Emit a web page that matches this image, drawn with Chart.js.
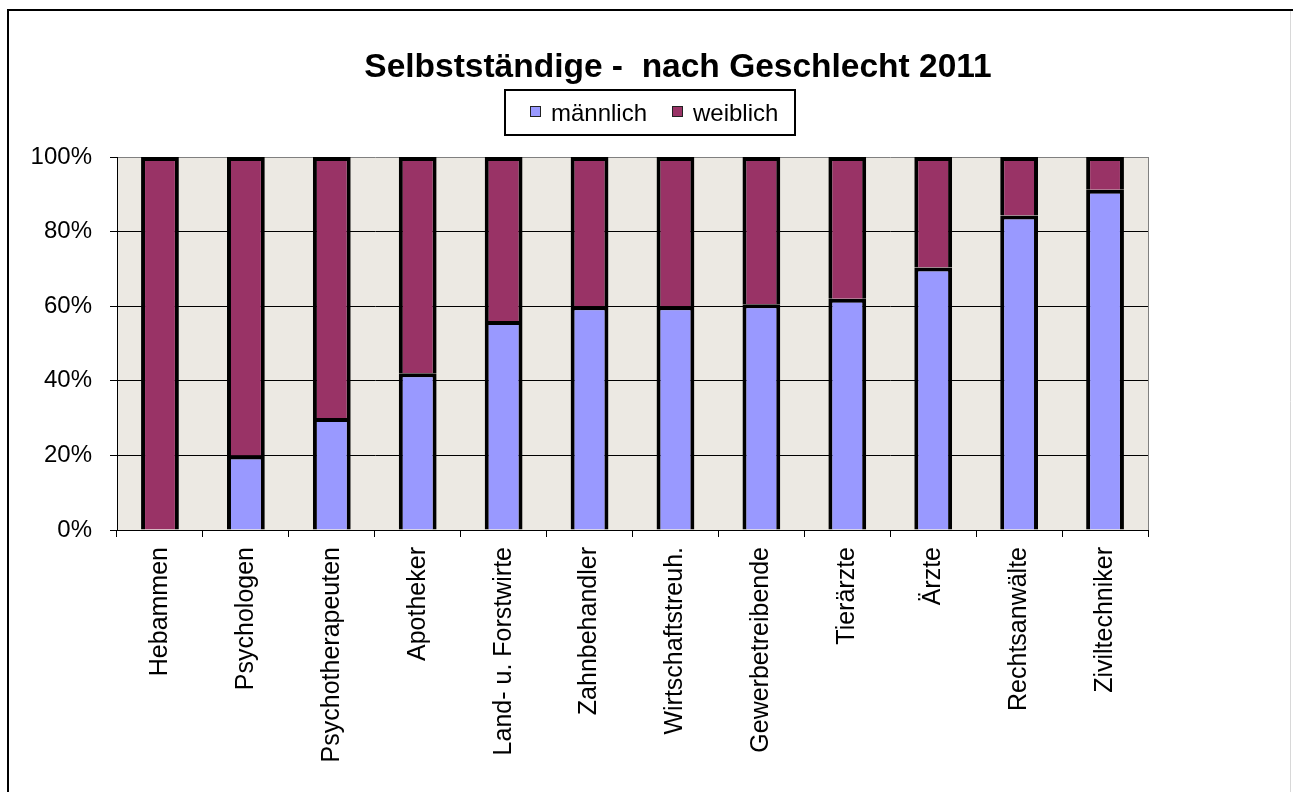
<!DOCTYPE html>
<html lang="de">
<head>
<meta charset="utf-8">
<title>Selbstständige - nach Geschlecht 2011</title>
<script src="https://cdn.jsdelivr.net/npm/chart.js@4.4.1/dist/chart.umd.min.js"></script>
<style>
  html, body { margin: 0; padding: 0; background: #fff; }
  canvas { display: block; }
</style>
</head>
<body>
<canvas id="chart" width="1293" height="792"></canvas>
<script>
// Berufsgruppen, Anteil männlich / weiblich in Prozent
const kategorien = ['Hebammen', 'Psychologen', 'Psychotherapeuten', 'Apotheker', 'Land- u. Forstwirte',
  'Zahnbehandler', 'Wirtschaftstreuh.', 'Gewerbetreibende', 'Tierärzte', 'Ärzte', 'Rechtsanwälte', 'Ziviltechniker'];
const maennlich = [0, 20, 30, 42, 56, 60, 60, 60.5, 62, 70.4, 84.3, 91.2];
const weiblich = [100, 80, 70, 58, 44, 40, 40, 39.5, 38, 29.6, 15.7, 8.8];
const yTicks = [0, 20, 40, 60, 80, 100];

const titel = 'Selbstständige -  nach Geschlecht 2011';
const FONT = '"Liberation Sans", Arial, Helvetica, sans-serif';
const BLAU = '#9999ff';
const ROT = '#993366';

// Rahmen, Hintergrund der Zeichenfläche, Titel und Legende
const deko = {
  id: 'deko',
  beforeDraw(chart) {
    const { ctx, chartArea: a } = chart;
    ctx.save();
    ctx.fillStyle = '#fff';
    ctx.fillRect(0, 0, chart.width, chart.height);
    // äußerer Rahmen
    ctx.strokeStyle = '#000';
    ctx.lineWidth = 2;
    ctx.beginPath();
    ctx.moveTo(8, chart.height);
    ctx.lineTo(8, 10);
    ctx.lineTo(chart.width, 10);
    ctx.stroke();
    ctx.strokeStyle = '#d8d8d8';
    ctx.lineWidth = 1;
    ctx.beginPath();
    ctx.moveTo(1290.5, 11);
    ctx.lineTo(1290.5, chart.height);
    ctx.stroke();
    // Zeichenfläche
    ctx.fillStyle = '#ece9e3';
    ctx.fillRect(a.left, a.top, a.right - a.left, a.bottom - a.top);
    ctx.restore();
  },
  afterDraw(chart) {
    const { ctx, chartArea: a } = chart;
    ctx.save();
    // rechter Rand der Zeichenfläche
    ctx.strokeStyle = '#808080';
    ctx.lineWidth = 1;
    ctx.beginPath();
    ctx.moveTo(a.right + 0.5, a.top);
    ctx.lineTo(a.right + 0.5, a.bottom);
    ctx.stroke();

    // Titel
    ctx.fillStyle = '#000';
    ctx.font = 'bold 33.5px ' + FONT;
    ctx.textAlign = 'center';
    ctx.textBaseline = 'alphabetic';
    ctx.fillText(titel, 678, 77);

    // Legende mit Kasten
    ctx.fillStyle = '#fff';
    ctx.fillRect(505, 90, 290, 45);
    ctx.strokeStyle = '#000';
    ctx.lineWidth = 2;
    ctx.strokeRect(505, 90, 290, 45);
    ctx.font = '24px ' + FONT;
    ctx.textAlign = 'left';
    let x = 530;
    chart.data.datasets.forEach(ds => {
      ctx.fillStyle = ds.backgroundColor;
      ctx.fillRect(x, 106, 11, 11);
      ctx.strokeStyle = '#222';
      ctx.lineWidth = 1;
      ctx.strokeRect(x + 0.5, 106.5, 10, 10);
      ctx.fillStyle = '#000';
      ctx.fillText(ds.label, x + 21, 121);
      x += 142;
    });
    ctx.restore();
  }
};

new Chart(document.getElementById('chart'), {
  type: 'bar',
  data: {
    labels: kategorien,
    datasets: [
      { label: 'männlich', data: maennlich, backgroundColor: BLAU, borderColor: '#000', borderWidth: 4 },
      { label: 'weiblich', data: weiblich, backgroundColor: ROT, borderColor: '#000', borderWidth: 4 }
    ]
  },
  options: {
    responsive: false,
    devicePixelRatio: 1,
    animation: false,
    layout: { padding: { top: 157, right: 145, left: 0, bottom: 0 } },
    datasets: { bar: { barPercentage: 0.44, categoryPercentage: 1 } },
    plugins: { legend: { display: false }, title: { display: false }, tooltip: { enabled: false } },
    scales: {
      x: {
        stacked: true,
        grid: { drawOnChartArea: false, offset: true, tickLength: 7, tickColor: '#000' },
        border: { color: '#000', width: 1 },
        ticks: { minRotation: 90, maxRotation: 90, padding: 10, color: '#000', font: { family: FONT, size: 25 } },
        afterFit(s) { s.height = 262; }
      },
      y: {
        stacked: true,
        min: 0,
        max: 100,
        afterBuildTicks(s) { s.ticks = yTicks.map(v => ({ value: v })); },
        grid: {
          color: c => (c.tick && c.tick.value === 100 ? '#808080' : '#000'),
          lineWidth: 1, tickLength: 7, tickColor: '#000'
        },
        border: { color: '#000', width: 1 },
        ticks: { padding: 18, color: '#000', font: { family: FONT, size: 24 }, callback: v => v + '%' },
        afterFit(s) { s.width = 117; }
      }
    }
  },
  plugins: [deko]
});
</script>
</body>
</html>
